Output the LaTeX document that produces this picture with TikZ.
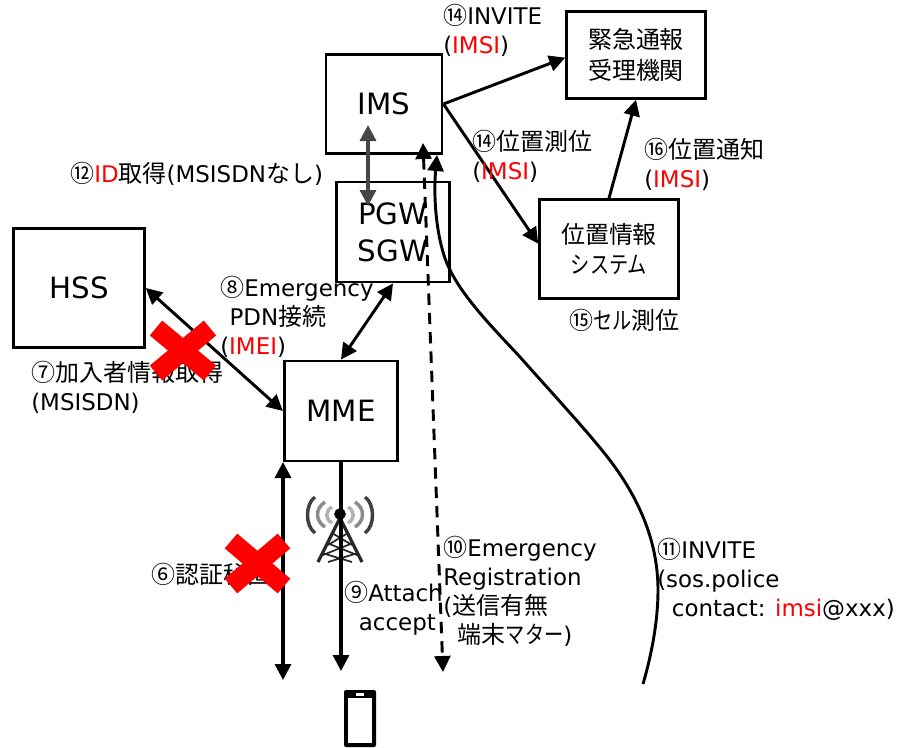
\documentclass[tikz,border=0pt]{standalone}
\usepackage{fontspec}
\setmainfont{DejaVu Sans}
\newfontfamily\jpfont[Scale=1.046]{Noto Sans CJK JP}
\newfontfamily\knfont[Scale=1.046,FakeStretch=0.8]{Noto Sans CJK JP}
\usetikzlibrary{arrows.meta}
\definecolor{imsgray}{RGB}{70,70,70}
\newcommand{\jp}[1]{{\jpfont #1}}
\newcommand{\kn}[1]{{\knfont #1}}
\newcommand{\redt}[1]{\textcolor{red}{#1}}
\tikzset{
    tip/.tip={Triangle[length=12pt,width=12pt]},
    box/.style={draw,line width=2.2pt,inner sep=0pt,align=center,font=\fontsize{22}{27.5}\selectfont},
    jpbox/.style={box,font=\fontsize{17.2}{23}\selectfont},
    lbl/.style={anchor=west,align=left,inner sep=0pt,font=\fontsize{17.2}{21.75}\selectfont},
    link/.style={line width=2.2pt,-tip},
    both/.style={line width=2.2pt,tip-tip},
    cross/.style={red,line width=14.5pt}
}
\begin{document}
\begin{tikzpicture}[x=0.75pt,y=-0.75pt]
    \useasboundingbox (0,0) rectangle (900,747);
    % boxes
    \node[box,minimum width=87pt,minimum height=74pt] (ims) at (384,104) {IMS};
    \node[box,minimum width=85pt,minimum height=75pt] (pgw) at (393,232) {PGW\\SGW};
    \node[box,minimum width=98pt,minimum height=89pt] (hss) at (79,288) {HSS};
    \node[box,minimum width=85pt,minimum height=75pt] (mme) at (341,411) {MME};
    \node[jpbox,minimum width=104pt,minimum height=65pt] (center) at (636,55) {\jp{緊急通報}\\\jp{受理機関}};
    \node[jpbox,minimum width=104pt,minimum height=74pt] (loc) at (609,249) {\jp{位置情報}\\\kn{システム}};
    % free ends
    \coordinate (a6) at (283,680);
    \coordinate (a6t) at (283,462);
    \coordinate (a9) at (341,671);
    \coordinate (a10s) at (423,143);
    \coordinate (a10) at (443,672);
    \coordinate (a11) at (643,684);
    \coordinate (a11t) at (437,155);
    \coordinate (a12s) at (368,125);
    \coordinate (a12) at (368,206);
    % tower
    \draw[line width=2.6pt,black!75] (315,497) .. controls (305,504) and (305,526) .. (315,533);
    \draw[line width=2.6pt,black!75] (365,497) .. controls (375,504) and (375,526) .. (365,533);
    \draw[line width=2.6pt,black!45] (325,502) .. controls (315,508) and (315,521) .. (325,527);
    \draw[line width=2.6pt,black!45] (355,502) .. controls (365,508) and (365,521) .. (355,527);
    \draw[line width=2.6pt,black!30] (332,507) .. controls (325,511) and (325,519) .. (332,523);
    \draw[line width=2.6pt,black!30] (348,507) .. controls (355,511) and (355,519) .. (348,523);
    \draw[line width=2.4pt,black!85,line join=round] (318,562) -- (340,518) -- (362,562);
    \draw[line width=1.3pt,black!85] (322,553) -- (352,562) (358,553) -- (328,562) (327,543) -- (357,555) (353,543) -- (323,555) (332,533) -- (352,545) (348,533) -- (328,545);
    \draw[black,fill=black] (340,514) circle (5.5);
    % connectors
    \draw[link] (ims.east) -- ([yshift=-2pt]center.west);
    \draw[link] (ims.east) -- ([yshift=4pt]loc.west);
    \draw[link] (loc.north) -- (center.south);
    \draw[both,imsgray,line width=2.45pt] (a12s) -- (a12);
    \draw[both] (pgw.south) -- (mme.north);
    \draw[both] (hss.east) -- (mme.west);
    \draw[both,line width=2.45pt] (a6t) -- (a6);
    \draw[link,line width=2.45pt] (mme.south) -- (a9);
    \draw[line width=2.2pt,dash pattern=on 8.5pt off 6pt,tip-tip] (a10s) -- (a10);
    \draw[line width=2.2pt,tip-] (a11t) .. controls (433,200) and (437,245) .. (450,270) .. controls (465,300) and (495,330) .. (520,357) .. controls (560,402) and (600,445) .. (617,470) .. controls (645,510) and (658,550) .. (658,590) .. controls (658,625) and (650,660) .. (a11);
    % phone
    \fill[rounded corners=1.5pt] (344,690) rectangle (376,747);
    \fill[white] (348,698) rectangle (372,743);
    \fill[white] (356,693) rectangle (364,695.5);
    % labels
    \node[lbl] (l14a) at (443,30) {\jp{⑭}INVITE\\(\redt{IMSI})};
    \node[lbl] (l14b) at (472,156) {\jp{⑭位置測位}\\(\redt{IMSI})};
    \node[lbl] (l16) at (644,164) {\jp{⑯位置通知}\\(\redt{IMSI})};
    \node[lbl] (l15) at (569,320) {\jp{⑮}\kn{セル}\jp{測位}};
    \node[lbl] (l12) at (70,174) {\jp{⑫}\redt{ID}\jp{取得}(MSISDN\jp{なし})};
    \node[lbl] (l8) at (220,317) {\jp{⑧}Emergency\\\hspace*{7pt}PDN\jp{接続}\\(\redt{IMEI})};
    \node[lbl] (l7) at (31,387) {\jp{⑦加入者情報取得}\\(MSISDN)};
    \node[lbl] (l6) at (151,574) {\jp{⑥認証秘匿}};
    \node[lbl] (l9) at (344,608) {\jp{⑨}Attach\\\hspace*{11pt}accept};
    \node[lbl] (l10) at (443,591) {\jp{⑩}Emergency\\Registration\\(\jp{送信有無}\\\hspace*{11pt}\jp{端末}\kn{マター})};
    \node[lbl] (l11) at (657,579) {\jp{⑪}INVITE\\(sos.police\\\hspace*{11pt}contact: \redt{imsi}@xxx)};
    % crosses
    \draw[cross] (156,328) -- (210,373) (210,328) -- (156,373);
    \draw[cross] (231,541) -- (284,586) (284,541) -- (231,586);
\end{tikzpicture}
\end{document}
